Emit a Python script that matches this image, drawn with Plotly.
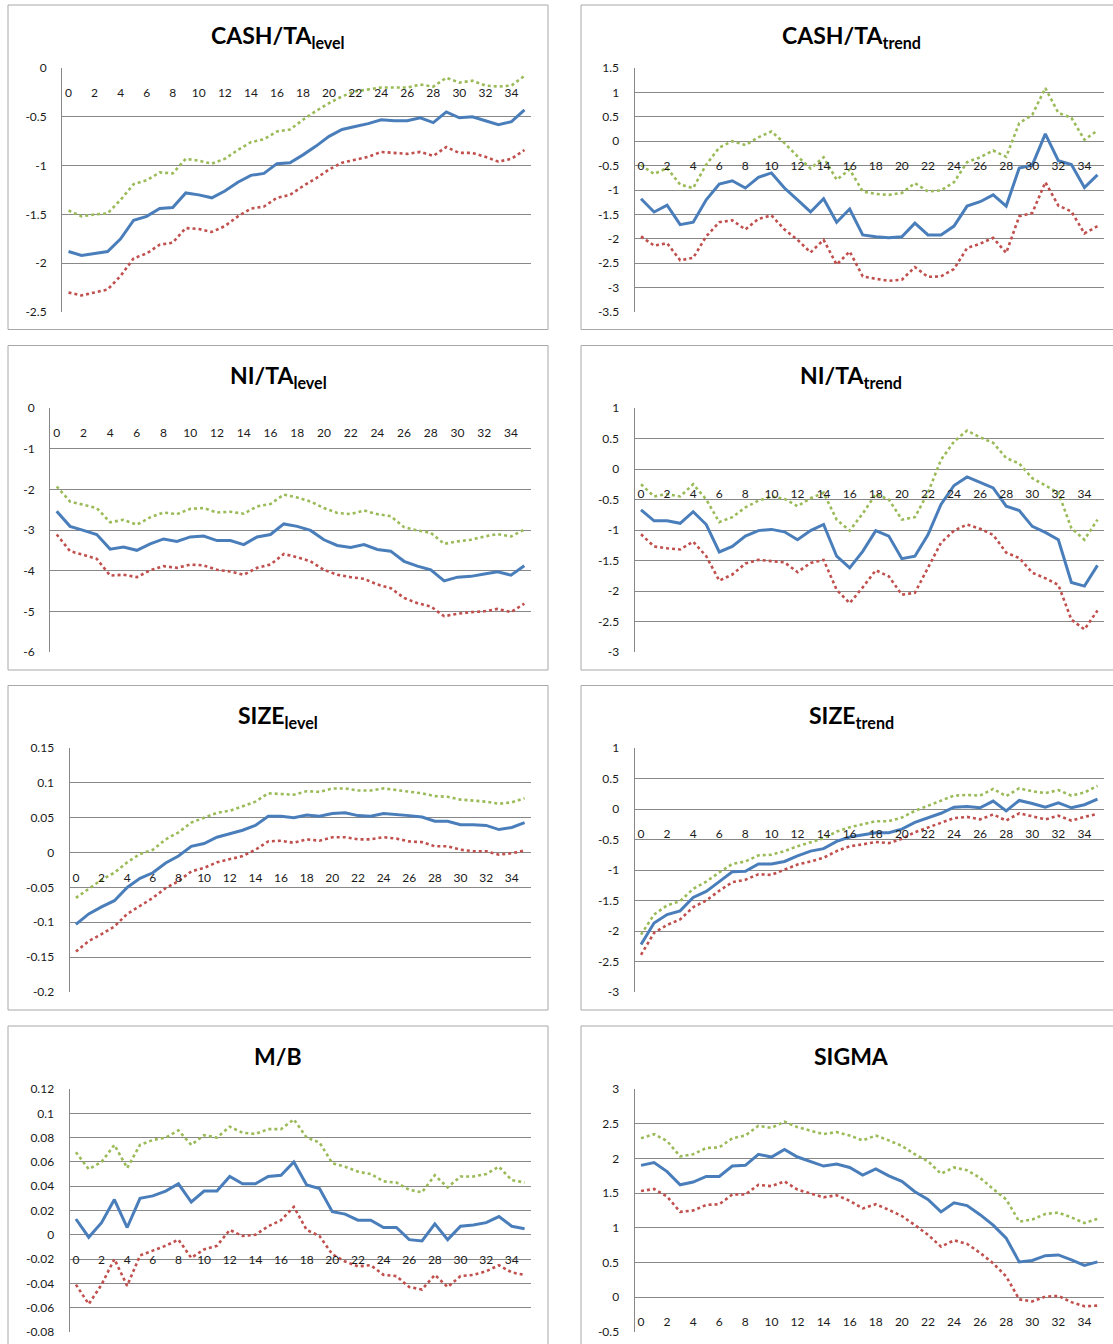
import plotly.graph_objects as go

# ---------------------------------------------------------------
# Event-time index (quarters 0..35) and x tick labels
# ---------------------------------------------------------------
quarters = list(range(36))
x_tick_vals = list(range(0, 36, 2))

# ---------------------------------------------------------------
# CASH/TA level
# ---------------------------------------------------------------
cash_level_est = [-1.88, -1.92, -1.90, -1.88, -1.75, -1.56, -1.52, -1.44, -1.43, -1.28, -1.30, -1.33,
                  -1.26, -1.17, -1.10, -1.08, -0.98, -0.97, -0.89, -0.80, -0.70, -0.63, -0.60, -0.57,
                  -0.53, -0.54, -0.54, -0.51, -0.56, -0.45, -0.51, -0.50, -0.54, -0.58, -0.55, -0.43]
cash_level_hi = [-1.46, -1.52, -1.50, -1.49, -1.35, -1.19, -1.15, -1.07, -1.08, -0.93, -0.95, -0.98,
                 -0.93, -0.84, -0.76, -0.73, -0.65, -0.63, -0.53, -0.44, -0.36, -0.29, -0.24, -0.22,
                 -0.20, -0.20, -0.20, -0.17, -0.19, -0.10, -0.15, -0.13, -0.18, -0.19, -0.18, -0.08]
cash_level_lo = [-2.30, -2.33, -2.30, -2.27, -2.13, -1.95, -1.90, -1.81, -1.79, -1.64, -1.65, -1.68,
                 -1.62, -1.52, -1.44, -1.42, -1.33, -1.30, -1.21, -1.13, -1.04, -0.97, -0.94, -0.91,
                 -0.86, -0.87, -0.88, -0.86, -0.90, -0.81, -0.87, -0.87, -0.91, -0.96, -0.93, -0.84]
cash_level_yticks = [0, -0.5, -1, -1.5, -2, -2.5]

# ---------------------------------------------------------------
# CASH/TA trend
# ---------------------------------------------------------------
cash_trend_est = [-1.18, -1.45, -1.31, -1.71, -1.66, -1.20, -0.88, -0.81, -0.96, -0.74, -0.65, -0.96,
                  -1.20, -1.45, -1.18, -1.66, -1.39, -1.92, -1.96, -1.98, -1.96, -1.68, -1.92, -1.92,
                  -1.74, -1.33, -1.24, -1.10, -1.33, -0.55, -0.49, 0.15, -0.40, -0.48, -0.95, -0.69]
cash_trend_hi = [-0.49, -0.67, -0.55, -0.89, -0.96, -0.48, -0.13, 0.00, -0.08, 0.08, 0.20, -0.04,
                 -0.31, -0.56, -0.33, -0.79, -0.58, -1.03, -1.08, -1.10, -1.06, -0.86, -1.03, -1.01,
                 -0.84, -0.43, -0.33, -0.19, -0.32, 0.37, 0.54, 1.09, 0.58, 0.48, 0.03, 0.22]
cash_trend_lo = [-1.95, -2.14, -2.09, -2.44, -2.39, -1.95, -1.66, -1.62, -1.81, -1.59, -1.52, -1.81,
                 -2.02, -2.28, -2.02, -2.53, -2.26, -2.77, -2.82, -2.86, -2.84, -2.58, -2.78, -2.77,
                 -2.62, -2.19, -2.10, -1.98, -2.29, -1.54, -1.47, -0.84, -1.32, -1.44, -1.89, -1.74]
cash_trend_yticks = [1.5, 1, 0.5, 0, -0.5, -1, -1.5, -2, -2.5, -3, -3.5]

# ---------------------------------------------------------------
# NI/TA level
# ---------------------------------------------------------------
ni_level_est = [-2.54, -2.91, -3.01, -3.11, -3.47, -3.42, -3.50, -3.34, -3.22, -3.28, -3.17, -3.15,
                -3.26, -3.26, -3.36, -3.17, -3.11, -2.85, -2.91, -3.01, -3.24, -3.38, -3.43, -3.36,
                -3.48, -3.52, -3.77, -3.89, -3.98, -4.25, -4.16, -4.14, -4.08, -4.03, -4.11, -3.88]
ni_level_hi = [-1.93, -2.30, -2.38, -2.46, -2.81, -2.75, -2.87, -2.69, -2.57, -2.61, -2.48, -2.46,
               -2.57, -2.55, -2.60, -2.42, -2.36, -2.13, -2.20, -2.30, -2.46, -2.58, -2.61, -2.52,
               -2.61, -2.66, -2.93, -3.01, -3.07, -3.34, -3.28, -3.24, -3.16, -3.10, -3.16, -2.99]
ni_level_lo = [-3.11, -3.52, -3.61, -3.71, -4.12, -4.10, -4.16, -3.99, -3.89, -3.93, -3.85, -3.87,
               -3.98, -4.02, -4.10, -3.93, -3.85, -3.59, -3.67, -3.77, -3.98, -4.10, -4.16, -4.20,
               -4.34, -4.43, -4.67, -4.80, -4.88, -5.12, -5.06, -5.02, -5.00, -4.94, -5.02, -4.81]
ni_level_yticks = [0, -1, -2, -3, -4, -5, -6]

# ---------------------------------------------------------------
# NI/TA trend
# ---------------------------------------------------------------
ni_trend_est = [-0.67, -0.85, -0.85, -0.89, -0.70, -0.91, -1.36, -1.27, -1.10, -1.01, -0.99, -1.03,
                -1.16, -1.01, -0.91, -1.43, -1.62, -1.35, -1.01, -1.10, -1.47, -1.43, -1.08, -0.58,
                -0.27, -0.13, -0.22, -0.31, -0.61, -0.68, -0.94, -1.04, -1.16, -1.86, -1.92, -1.58]
ni_trend_hi = [-0.25, -0.45, -0.41, -0.45, -0.25, -0.50, -0.87, -0.79, -0.63, -0.52, -0.45, -0.49,
               -0.61, -0.48, -0.39, -0.83, -1.01, -0.73, -0.41, -0.50, -0.83, -0.79, -0.39, 0.15,
               0.45, 0.63, 0.52, 0.43, 0.18, 0.09, -0.15, -0.27, -0.39, -0.97, -1.16, -0.83]
ni_trend_lo = [-1.07, -1.27, -1.30, -1.32, -1.19, -1.43, -1.83, -1.73, -1.55, -1.49, -1.51, -1.53,
               -1.69, -1.54, -1.49, -1.98, -2.20, -1.94, -1.66, -1.76, -2.06, -2.03, -1.62, -1.21,
               -1.01, -0.91, -0.98, -1.08, -1.37, -1.46, -1.70, -1.79, -1.90, -2.47, -2.63, -2.32]
ni_trend_yticks = [1, 0.5, 0, -0.5, -1, -1.5, -2, -2.5, -3]

# ---------------------------------------------------------------
# SIZE level
# ---------------------------------------------------------------
size_level_est = [-0.103, -0.088, -0.078, -0.069, -0.050, -0.037, -0.029, -0.015, -0.005, 0.009, 0.013, 0.022,
                  0.027, 0.032, 0.039, 0.052, 0.052, 0.050, 0.054, 0.052, 0.056, 0.057, 0.053, 0.052,
                  0.056, 0.055, 0.053, 0.051, 0.045, 0.045, 0.040, 0.040, 0.039, 0.033, 0.036, 0.043]
size_level_hi = [-0.065, -0.052, -0.039, -0.029, -0.014, -0.002, 0.004, 0.019, 0.029, 0.043, 0.050, 0.057,
                 0.060, 0.066, 0.073, 0.085, 0.084, 0.083, 0.088, 0.087, 0.092, 0.092, 0.089, 0.089,
                 0.092, 0.090, 0.088, 0.085, 0.081, 0.080, 0.076, 0.075, 0.073, 0.070, 0.072, 0.078]
size_level_lo = [-0.142, -0.127, -0.117, -0.106, -0.088, -0.076, -0.065, -0.051, -0.041, -0.027, -0.022, -0.014,
                 -0.010, -0.005, 0.004, 0.016, 0.017, 0.014, 0.019, 0.017, 0.022, 0.022, 0.019, 0.019,
                 0.022, 0.020, 0.016, 0.015, 0.009, 0.009, 0.004, 0.002, 0.002, -0.003, -0.001, 0.003]
size_level_yticks = [0.15, 0.1, 0.05, 0, -0.05, -0.1, -0.15, -0.2]

# ---------------------------------------------------------------
# SIZE trend
# ---------------------------------------------------------------
size_trend_est = [-2.22, -1.87, -1.73, -1.67, -1.45, -1.35, -1.19, -1.03, -1.02, -0.90, -0.90, -0.86,
                  -0.77, -0.69, -0.65, -0.53, -0.46, -0.43, -0.39, -0.39, -0.33, -0.22, -0.14, -0.07,
                  0.03, 0.04, 0.02, 0.13, -0.03, 0.14, 0.09, 0.03, 0.10, 0.02, 0.07, 0.16]
size_trend_hi = [-2.06, -1.73, -1.58, -1.51, -1.31, -1.19, -1.04, -0.90, -0.86, -0.76, -0.75, -0.69,
                 -0.61, -0.55, -0.48, -0.37, -0.30, -0.25, -0.20, -0.20, -0.14, -0.03, 0.05, 0.13,
                 0.22, 0.23, 0.22, 0.33, 0.21, 0.34, 0.29, 0.26, 0.31, 0.22, 0.27, 0.38]
size_trend_lo = [-2.39, -2.03, -1.90, -1.81, -1.61, -1.50, -1.34, -1.20, -1.16, -1.07, -1.08, -0.99,
                 -0.91, -0.86, -0.80, -0.69, -0.61, -0.58, -0.54, -0.56, -0.49, -0.38, -0.30, -0.23,
                 -0.15, -0.13, -0.17, -0.09, -0.19, -0.07, -0.12, -0.17, -0.11, -0.19, -0.13, -0.08]
size_trend_yticks = [1, 0.5, 0, -0.5, -1, -1.5, -2, -2.5, -3]

# ---------------------------------------------------------------
# M/B
# ---------------------------------------------------------------
mb_est = [0.013, -0.002, 0.010, 0.029, 0.006, 0.030, 0.032, 0.036, 0.042, 0.027, 0.036, 0.036,
          0.048, 0.042, 0.042, 0.048, 0.049, 0.060, 0.041, 0.038, 0.019, 0.017, 0.012, 0.012,
          0.006, 0.006, -0.004, -0.005, 0.009, -0.004, 0.007, 0.008, 0.010, 0.015, 0.007, 0.005]
mb_hi = [0.068, 0.054, 0.060, 0.074, 0.055, 0.074, 0.078, 0.080, 0.086, 0.074, 0.082, 0.080,
         0.089, 0.084, 0.083, 0.087, 0.087, 0.095, 0.080, 0.076, 0.059, 0.056, 0.052, 0.050,
         0.044, 0.043, 0.037, 0.035, 0.049, 0.039, 0.048, 0.048, 0.050, 0.056, 0.045, 0.043]
mb_lo = [-0.041, -0.057, -0.041, -0.020, -0.042, -0.017, -0.013, -0.009, -0.004, -0.019, -0.012, -0.009,
         0.004, -0.001, 0.000, 0.007, 0.012, 0.023, 0.004, -0.001, -0.016, -0.022, -0.026, -0.025,
         -0.033, -0.034, -0.043, -0.045, -0.033, -0.043, -0.034, -0.033, -0.030, -0.025, -0.031, -0.033]
mb_yticks = [0.12, 0.1, 0.08, 0.06, 0.04, 0.02, 0, -0.02, -0.04, -0.06, -0.08]

# ---------------------------------------------------------------
# SIGMA
# ---------------------------------------------------------------
sigma_est = [1.90, 1.94, 1.81, 1.62, 1.66, 1.74, 1.74, 1.89, 1.90, 2.06, 2.02, 2.13,
             2.02, 1.96, 1.89, 1.92, 1.87, 1.76, 1.85, 1.75, 1.67, 1.52, 1.41, 1.23,
             1.36, 1.32, 1.19, 1.04, 0.85, 0.51, 0.53, 0.60, 0.61, 0.54, 0.46, 0.51]
sigma_hi = [2.29, 2.35, 2.25, 2.03, 2.06, 2.15, 2.16, 2.29, 2.33, 2.47, 2.44, 2.53,
            2.45, 2.40, 2.35, 2.38, 2.33, 2.26, 2.33, 2.26, 2.18, 2.06, 1.96, 1.78,
            1.87, 1.83, 1.72, 1.56, 1.41, 1.09, 1.12, 1.20, 1.22, 1.15, 1.07, 1.13]
sigma_lo = [1.53, 1.56, 1.45, 1.23, 1.25, 1.33, 1.34, 1.48, 1.48, 1.62, 1.60, 1.67,
            1.55, 1.49, 1.44, 1.47, 1.39, 1.28, 1.34, 1.26, 1.17, 1.04, 0.90, 0.73,
            0.82, 0.77, 0.64, 0.49, 0.30, -0.03, -0.06, 0.01, 0.02, -0.07, -0.13, -0.12]
sigma_yticks = [3, 2.5, 2, 1.5, 1, 0.5, 0, -0.5]

# ---------------------------------------------------------------
# Page geometry (pixels) and styling
# ---------------------------------------------------------------
W, H = 1113, 1344
BLUE, GREEN, RED = "#4A7EBB", "#9BBB59", "#C0504D"
GRID = "#888888"
FRAME = "#a8a8a8"
TEXT = "#1a1a1a"
FONT = "Lato"

row_plot = [(68, 312), (408, 652), (748, 992), (1089, 1332)]
row_frame = [(5, 329.5), (345.5, 670), (685.5, 1010), (1026, 1352)]
row_title = [36, 376, 716, 1056]
left_frame = (8, 548)
right_frame = (581, 1125)
right_plot = (634.5, 1104)

panels = [
    dict(title="CASH/TA<sub>level</sub>", est=cash_level_est, hi=cash_level_hi, lo=cash_level_lo,
         yticks=cash_level_yticks, col=0, row=0, plot_x=(62, 531)),
    dict(title="CASH/TA<sub>trend</sub>", est=cash_trend_est, hi=cash_trend_hi, lo=cash_trend_lo,
         yticks=cash_trend_yticks, col=1, row=0, plot_x=right_plot),
    dict(title="NI/TA<sub>level</sub>", est=ni_level_est, hi=ni_level_hi, lo=ni_level_lo,
         yticks=ni_level_yticks, col=0, row=1, plot_x=(50, 531)),
    dict(title="NI/TA<sub>trend</sub>", est=ni_trend_est, hi=ni_trend_hi, lo=ni_trend_lo,
         yticks=ni_trend_yticks, col=1, row=1, plot_x=right_plot),
    dict(title="SIZE<sub>level</sub>", est=size_level_est, hi=size_level_hi, lo=size_level_lo,
         yticks=size_level_yticks, col=0, row=2, plot_x=(69.5, 531)),
    dict(title="SIZE<sub>trend</sub>", est=size_trend_est, hi=size_trend_hi, lo=size_trend_lo,
         yticks=size_trend_yticks, col=1, row=2, plot_x=right_plot),
    dict(title="M/B", est=mb_est, hi=mb_hi, lo=mb_lo,
         yticks=mb_yticks, col=0, row=3, plot_x=(69.5, 531)),
    dict(title="SIGMA", est=sigma_est, hi=sigma_hi, lo=sigma_lo,
         yticks=sigma_yticks, col=1, row=3, plot_x=right_plot),
]


def fx(px):
    return px / W


def fy(py):
    return 1 - py / H


def label(v):
    return f"{round(v, 4) + 0.0:g}"


fig = go.Figure()
layout = dict(
    width=W, height=H,
    margin=dict(l=0, r=0, t=0, b=0, pad=0, autoexpand=False),
    paper_bgcolor="white", plot_bgcolor="white",
    showlegend=False,
    font=dict(family=FONT, size=12, color=TEXT),
    shapes=[], annotations=[],
)

for i, p in enumerate(panels, start=1):
    sfx = "" if i == 1 else str(i)
    xa, ya = f"x{sfx}", f"y{sfx}"
    top, bot = row_plot[p["row"]]
    ymax, ymin = max(p["yticks"]), min(p["yticks"])
    y_dom = [fy(bot), fy(top)]
    # category axis crosses the value axis at 0
    zero_pos = y_dom[0] + (0 - ymin) / (ymax - ymin) * (y_dom[1] - y_dom[0])

    layout[f"xaxis{sfx}"] = dict(
        domain=[fx(p["plot_x"][0]), fx(p["plot_x"][1])],
        range=[-0.5, 35.5], tickvals=x_tick_vals, ticktext=[str(v) for v in x_tick_vals],
        showgrid=False, zeroline=False, showline=False, ticks="", automargin=False,
        anchor="free", position=zero_pos, ticklabelstandoff=16,
        tickfont=dict(family=FONT, size=12, color=TEXT), fixedrange=True,
    )
    layout[f"yaxis{sfx}"] = dict(
        domain=y_dom, range=[ymin, ymax], anchor=xa, automargin=False,
        tickvals=p["yticks"], ticktext=[label(v) for v in p["yticks"]],
        showgrid=True, gridcolor=GRID, gridwidth=1, zeroline=False,
        showline=True, linecolor=GRID, linewidth=1, ticks="",
        ticklabelstandoff=12, tickfont=dict(family=FONT, size=12, color=TEXT), fixedrange=True,
    )

    fig.add_trace(go.Scatter(x=quarters, y=p["hi"], mode="lines", xaxis=xa, yaxis=ya,
                             line=dict(color=GREEN, width=2.6, dash="dot")))
    fig.add_trace(go.Scatter(x=quarters, y=p["lo"], mode="lines", xaxis=xa, yaxis=ya,
                             line=dict(color=RED, width=2.6, dash="dot")))
    fig.add_trace(go.Scatter(x=quarters, y=p["est"], mode="lines", xaxis=xa, yaxis=ya,
                             line=dict(color=BLUE, width=3)))

    # chart frame
    fl, fr = left_frame if p["col"] == 0 else right_frame
    ft, fb = row_frame[p["row"]]
    layout["shapes"].append(dict(type="rect", xref="paper", yref="paper",
                                 x0=fx(fl), x1=fx(fr), y0=fy(fb), y1=fy(ft),
                                 line=dict(color=FRAME, width=1), layer="below"))
    # panel title
    layout["annotations"].append(dict(
        text=f"<b>{p['title']}</b>", xref="paper", yref="paper",
        x=fx((fl + fr) / 2 if p["col"] == 0 else 851), y=fy(row_title[p["row"]]),
        xanchor="center", yanchor="middle", showarrow=False,
        font=dict(family=FONT, size=23, color="#000000"),
    ))

fig.update_layout(**layout)
fig.write_html("out.html")
